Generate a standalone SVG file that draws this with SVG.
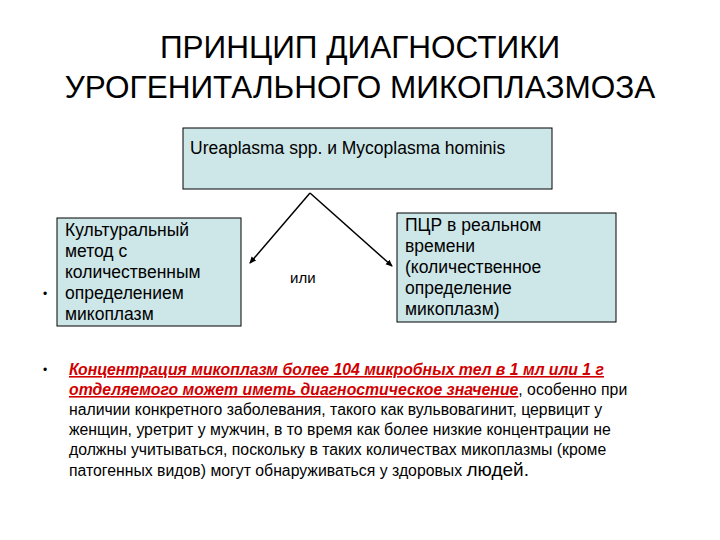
<svg xmlns="http://www.w3.org/2000/svg" width="720" height="540" viewBox="0 0 720 540">
<style>
text{font-family:"Liberation Sans",Arial,sans-serif;fill:#000}
.box{fill:#cde6e8;stroke:#000;stroke-width:1}
.t{font-size:17.5px}
.b{font-size:15.8px}
.r{fill:#d00000;font-weight:bold;font-style:italic;text-decoration:underline}
</style>
<defs><marker id="a" markerWidth="8" markerHeight="8" refX="6" refY="4" orient="auto" markerUnits="userSpaceOnUse"><path d="M0,1 L7,4 L0,7 z" fill="#000"/></marker></defs>
<rect width="720" height="540" fill="#fff"/>
<text x="360" y="58" text-anchor="middle" font-size="31.5">ПРИНЦИП ДИАГНОСТИКИ</text>
<text x="360" y="98" text-anchor="middle" font-size="31.5">УРОГЕНИТАЛЬНОГО МИКОПЛАЗМОЗА</text>
<g id="top"><rect class="box" x="183" y="128" width="369" height="61"/><text class="t" x="190" y="154">Ureaplasma spp. и Mycoplasma hominis</text></g>
<g id="left"><rect class="box" x="57" y="218" width="184" height="108"/>
<text class="t" x="65" y="236">Культуральный</text><text class="t" x="65" y="257">метод  с</text><text class="t" x="65" y="278">количественным</text><text class="t" x="65" y="299">определением</text><text class="t" x="65" y="320">микоплазм</text></g>
<g id="right"><rect class="box" x="397" y="213" width="219" height="109"/>
<text class="t" x="405" y="231">ПЦР в реальном</text><text class="t" x="405" y="252">времени</text><text class="t" x="405" y="273">(количественное</text><text class="t" x="405" y="294">определение</text><text class="t" x="405" y="315">микоплазм)</text></g>
<g id="connectors" stroke="#000" stroke-width="1.5" fill="none">
<path d="M310,193 L250,263" marker-end="url(#a)"/>
<path d="M310,193 L392,266" marker-end="url(#a)"/>
</g>
<text x="290" y="283" font-size="15">или</text>
<text x="43" y="298" font-size="12">•</text>
<text x="43" y="374" font-size="12">•</text>
<g class="b">
<text x="69" y="375" class="r">Концентрация микоплазм более 104 микробных тел в 1 мл или 1 г</text>
<text x="69" y="395"><tspan class="r">отделяемого может иметь диагностическое значение</tspan>, особенно при</text>
<text x="69" y="415">наличии конкретного заболевания, такого как вульвовагинит, цервицит у</text>
<text x="69" y="435">женщин, уретрит у мужчин, в то время как более низкие концентрации не</text>
<text x="69" y="455">должны учитываться, поскольку в таких количествах микоплазмы (кроме</text>
<text x="69" y="476">патогенных видов) могут обнаруживаться у здоровых <tspan font-size="19">людей.</tspan></text>
</g>
</svg>
